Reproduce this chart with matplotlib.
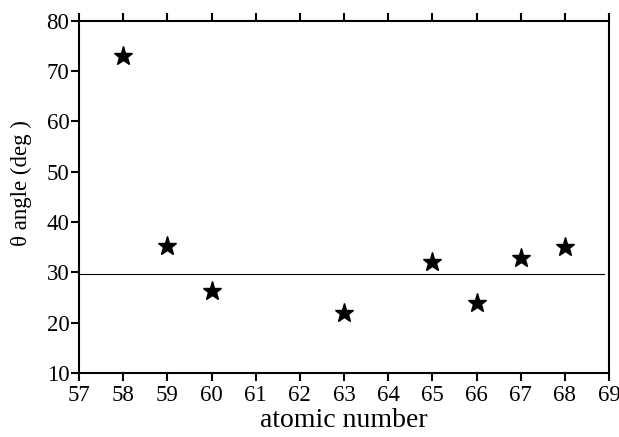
import matplotlib.pyplot as plt

# atomic number vs theta angle
Z = [58, 59, 60, 63, 65, 66, 67, 68]
theta = [73.0, 35.2, 26.2, 21.9, 32.1, 23.9, 32.9, 35.0]
ref_angle = 29.7

plt.rcParams['font.family'] = ['Liberation Serif', 'DejaVu Serif']

fig = plt.figure(figsize=(6.19, 4.37), dpi=100)
ax = fig.add_axes([0.1276, 0.1465, 0.8564, 0.8061])

ax.axhline(ref_angle, color='black', lw=0.8, xmax=0.99)
ax.plot(Z, theta, linestyle='none', marker='*', color='black', markersize=14)

ax.set_xlim(57, 69)
ax.set_ylim(10, 80)
ax.set_xticks(range(57, 70))
ax.set_yticks(range(10, 81, 10))

for s in ax.spines.values():
    s.set_linewidth(1.5)
ax.tick_params(direction='out', length=6, width=1.5, labelsize=16.5,
               top=True, right=False)
ax.tick_params(axis='x', pad=3)
ax.tick_params(axis='y', pad=1)

ax.set_xlabel('atomic number', fontsize=20, labelpad=1)
ax.set_ylabel('θ angle (deg )', fontsize=16.5)
ax.yaxis.set_label_coords(-0.089, 0.538)

fig.savefig('out.png', dpi=100)
